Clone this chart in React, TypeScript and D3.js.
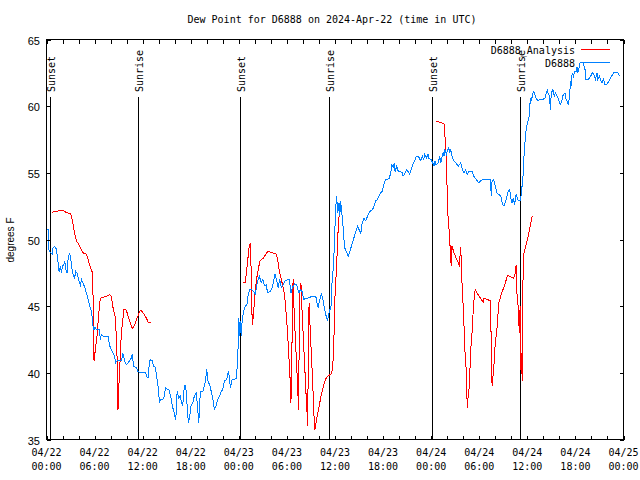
import React from 'react';
import * as d3 from 'd3';

// ---------- DATA ----------
// Observations (hours since 04/22 00:00 UTC, dew point °F)
const obsHours = [
  0.0, 0.2, 0.29, 0.5, 0.7, 0.83, 1.03, 1.25, 1.45, 1.57, 1.74, 1.87, 2.0, 2.15, 2.28, 2.4, 2.57, 2.7, 2.9, 3.03,
  3.15, 3.3, 3.5, 3.65, 3.8, 4.06, 4.23, 4.36, 4.56, 4.77, 4.98, 5.2, 5.4, 5.6, 5.73, 5.8, 5.93, 6.05, 6.2, 6.4,
  6.64, 6.7, 6.85, 7.05, 7.67, 7.9, 8.2, 8.5, 8.63, 8.8, 9.34, 9.54, 9.75, 9.96, 10.37, 10.58, 10.7, 10.87, 11.2, 11.4,
  11.6, 12.0, 12.37, 12.5, 12.66, 12.87, 13.0, 13.2, 13.36, 13.6, 13.77, 13.95, 14.1, 14.23, 14.5, 14.7, 14.85, 15.07, 15.27, 15.5,
  15.7, 15.9, 16.1, 16.2, 16.3, 16.5, 16.7, 16.8, 17.0, 17.1, 17.3, 17.4, 17.55, 17.7, 17.85, 18.05, 18.25, 18.45, 18.7, 18.9,
  19.0, 19.2, 19.5, 19.8, 20.0, 20.15, 20.4, 20.7, 20.95, 21.15, 21.35, 21.6, 21.8, 22.0, 22.2, 22.5, 22.7, 22.8, 22.95, 23.15,
  23.65, 23.85, 24.0, 24.07, 24.15, 24.3, 24.4, 24.57, 24.8, 25.0, 25.2, 25.4, 25.7, 26.07, 26.2, 26.4, 26.56, 26.8, 27.0, 27.2,
  27.4, 27.6, 27.9, 28.15, 28.3, 28.5, 28.7, 28.9, 29.1, 29.3, 29.5, 29.8, 30.1, 30.3, 30.5, 30.7, 30.96, 31.2, 31.5, 31.7,
  31.9, 32.1, 32.3, 32.6, 33.0, 33.6, 33.75, 33.9, 34.1, 34.3, 34.5, 34.7, 34.9, 35.05, 35.3, 35.5, 35.6, 35.8, 35.9, 36.0,
  36.1, 36.2, 36.35, 36.5, 36.6, 36.7, 36.85, 37.0, 37.2, 37.4, 37.65, 37.85, 38.1, 38.3, 38.5, 38.8, 39.0, 39.2, 39.4, 39.6,
  39.85, 40.05, 40.35, 40.7, 40.9, 41.1, 41.3, 41.5, 41.7, 41.9, 42.1, 42.3, 42.75, 42.96, 43.1, 43.25, 43.4, 43.5, 43.7, 43.9,
  44.2, 44.4, 44.5, 44.75, 44.96, 45.2, 45.3, 45.5, 45.7, 46.0, 46.15, 46.4, 46.6, 46.7, 46.9, 47.07, 47.2, 47.4, 47.6, 47.7,
  47.98, 48.2, 48.35, 48.5, 48.6, 48.9, 49.06, 49.2, 49.3, 49.5, 49.6, 49.7, 49.9, 50.0, 50.2, 50.3, 50.45, 50.6, 50.8, 51.05,
  51.4, 51.7, 51.9, 52.1, 52.3, 52.5, 52.7, 53.1, 53.3, 53.5, 53.75, 53.96, 54.2, 54.5, 55.4, 55.5, 55.6, 55.8, 56.0, 56.2,
  56.4, 56.7, 56.9, 57.1, 57.4, 57.6, 57.8, 57.95, 58.1, 58.25, 58.4, 58.6, 58.8, 58.96, 59.15, 59.3, 59.5, 59.6, 59.8, 60.0,
  60.2, 60.3, 60.4, 60.5, 60.7, 60.8, 60.9, 61.1, 61.3, 61.5, 61.9, 62.2, 62.5, 62.6, 62.8, 62.85, 63.0, 63.2, 63.35, 63.5,
  63.7, 63.9, 64.1, 64.3, 64.4, 64.7, 64.8, 64.95, 65.1, 65.25, 65.4, 65.45, 65.6, 65.75, 65.9, 66.1, 66.2, 66.3, 66.5, 66.6,
  66.9, 67.2, 67.3, 67.6, 67.9, 68.1, 68.3, 68.5, 68.7, 68.8, 69.0, 69.2, 69.3, 69.5, 69.7, 69.9, 70.2, 70.5, 70.8, 71.1,
  71.3, 71.5,
];
const obsValues = [
  50.75, 50.75, 49.25, 49.0, 48.9, 49.4, 49.5, 49.25, 48.25, 47.6, 48.0, 47.5, 48.0, 48.1, 48.4, 47.75, 47.5, 48.6, 49.0, 48.5,
  47.9, 47.4, 47.1, 47.6, 47.5, 46.9, 46.6, 47.0, 46.75, 46.4, 46.0, 45.5, 45.0, 44.6, 44.0, 43.5, 43.25, 43.4, 43.25, 43.25,
  43.25, 42.5, 42.9, 42.75, 42.75, 42.0, 41.6, 41.25, 40.75, 40.9, 40.9, 41.45, 40.9, 40.6, 40.9, 41.1, 41.4, 40.5, 40.4, 40.1,
  40.05, 40.05, 40.05, 39.75, 39.6, 40.9, 41.0, 40.9, 40.5, 40.4, 39.6, 38.9, 37.75, 38.0, 38.0, 38.25, 38.9, 38.75, 38.75, 38.25,
  37.5, 37.1, 36.5, 37.0, 38.6, 38.1, 38.25, 37.9, 37.5, 38.5, 39.1, 38.75, 37.5, 36.25, 36.6, 37.6, 37.75, 38.25, 38.5, 37.0,
  36.25, 38.6, 38.6, 39.25, 40.25, 39.4, 39.0, 38.25, 37.25, 37.5, 38.0, 38.25, 38.6, 38.75, 39.4, 39.5, 40.15, 39.75, 38.9, 39.5,
  39.55, 40.75, 44.1, 42.75, 43.9, 42.75, 43.75, 44.6, 45.0, 45.1, 46.0, 46.25, 46.2, 45.9, 46.5, 47.0, 47.25, 46.75, 47.0, 46.55,
  46.6, 46.0, 46.1, 46.4, 46.75, 47.4, 47.0, 46.4, 47.0, 46.4, 46.6, 46.9, 47.0, 47.0, 46.0, 46.4, 46.7, 46.6, 46.0, 46.25,
  46.1, 45.5, 45.6, 45.6, 45.7, 45.75, 45.25, 44.9, 45.5, 45.9, 45.5, 44.75, 44.25, 43.9, 44.6, 45.0, 46.5, 48.0, 49.25, 51.0,
  52.5, 53.25, 52.0, 52.75, 51.75, 52.9, 52.0, 51.0, 49.4, 49.1, 48.75, 49.1, 49.6, 50.0, 50.4, 51.0, 50.75, 50.4, 51.25, 51.6,
  51.4, 51.75, 52.1, 52.25, 52.6, 52.9, 53.0, 53.25, 53.5, 53.6, 54.1, 54.5, 54.55, 55.0, 55.6, 55.4, 55.75, 55.1, 55.5, 55.1,
  55.1, 55.0, 54.75, 55.0, 55.25, 55.0, 54.9, 55.25, 55.6, 56.0, 56.25, 56.25, 56.0, 55.9, 56.25, 56.0, 56.4, 56.1, 56.4, 56.1,
  56.0, 55.75, 55.5, 55.9, 55.6, 55.75, 56.25, 55.75, 56.1, 56.5, 56.25, 56.75, 56.4, 56.6, 56.9, 56.5, 56.75, 56.25, 55.9, 55.75,
  55.5, 55.75, 55.25, 55.0, 55.25, 54.9, 55.1, 55.1, 54.75, 54.6, 54.4, 54.25, 54.4, 54.5, 54.5, 53.25, 54.4, 54.5, 54.0, 53.5,
  53.4, 53.25, 52.6, 52.55, 53.1, 53.6, 53.75, 53.1, 52.75, 53.1, 52.6, 53.4, 53.0, 52.9, 52.9, 53.75, 55.0, 56.5, 58.0, 58.75,
  59.1, 60.0, 60.6, 60.4, 61.0, 61.1, 60.9, 60.6, 60.4, 60.5, 60.5, 60.6, 61.25, 60.9, 60.75, 59.75, 61.0, 61.25, 60.75, 61.0,
  60.75, 60.5, 60.1, 60.4, 60.75, 61.0, 60.6, 60.4, 60.1, 60.6, 61.9, 61.5, 62.5, 62.25, 62.6, 62.6, 62.9, 62.5, 63.0, 63.3,
  63.3, 62.75, 62.0, 62.0, 62.25, 62.5, 62.4, 62.0, 62.5, 62.0, 62.25, 61.9, 61.75, 62.0, 61.6, 61.6, 61.9, 62.25, 62.5, 62.55,
  62.5, 62.25,
];

// Analysis (NaN separates the three evening segments)
const anaHours = [
  0.62, 1.25, 1.66, 2.07, 2.5, 2.99, 3.2, 3.5, 3.74, 4.15, 4.56, 4.98, 5.39, 5.68, 5.8, 5.89, 5.93, 6.1, 6.3, 6.43,
  6.64, 6.72, 7.26, 7.88, 8.09, 8.3, 8.55, 8.72, 8.84, 8.92, 9.04, 9.34, 9.67, 9.96, 10.3, 10.7, 11.0, 11.4, 11.7, 11.95,
  12.37, 12.74, 13.0,
  13.1,
  24.5, 24.8, 24.9, 25.1, 25.3, 25.45, 25.5, 25.6, 25.7, 25.85, 26.0, 26.2, 26.5, 26.65, 27.06, 27.6, 28.0, 28.7, 28.9, 29.1,
  29.4, 29.7, 29.97, 30.2, 30.4, 30.5, 30.6, 30.7, 30.8, 30.9, 31.1, 31.3, 31.45, 31.5, 31.6, 31.75, 31.9, 32.1, 32.4, 32.6,
  32.7, 32.8, 32.9, 33.2, 33.4, 33.5, 33.7, 33.95, 34.25, 34.45, 34.8, 35.1, 35.5, 35.7, 35.8, 35.9, 36.0, 36.2, 36.3, 36.45,
  36.6,
  36.7,
  48.6, 49.0, 49.6, 49.7, 49.9, 50.0, 50.1, 50.3, 50.4, 50.5, 50.6, 50.8, 51.1, 51.5, 51.7, 51.75, 51.9, 52.0, 52.1, 52.2,
  52.4, 52.5, 52.6, 52.8, 52.9, 53.1, 53.3, 53.5, 53.96, 54.5, 54.6, 55.4, 55.5, 55.6, 55.8, 56.0, 56.2, 56.45, 56.8, 57.2,
  57.5, 57.8, 58.3, 58.5, 58.6, 58.7, 58.85, 59.0, 59.1, 59.2, 59.3, 59.35, 59.4, 59.5, 59.8, 60.0, 60.2, 60.4, 60.6,
];
const anaValues = [
  52.05, 52.1, 52.2, 52.2, 52.0, 51.97, 51.5, 50.5, 49.9, 49.5, 49.0, 48.9, 48.1, 47.6, 46.0, 43.25, 40.9, 41.75, 42.75, 43.75,
  45.25, 45.6, 45.7, 45.85, 45.75, 44.9, 44.25, 42.75, 40.5, 37.25, 39.1, 43.0, 44.75, 44.7, 44.0, 43.3, 43.6, 44.25, 44.7, 44.6,
  44.2, 43.75, 43.75,
  NaN,
  46.75, 46.75, 47.25, 48.4, 49.5, 49.75, 48.75, 45.0, 43.6, 44.5, 45.9, 47.0, 48.0, 48.4, 48.6, 49.1, 49.05, 48.9, 48.25, 47.5,
  46.75, 45.9, 44.0, 41.75, 39.5, 37.75, 40.0, 46.25, 47.0, 44.5, 42.0, 39.5, 37.25, 40.5, 46.0, 46.75, 44.5, 42.0, 38.25, 36.0,
  44.5, 45.25, 43.25, 39.5, 36.5, 35.75, 36.5, 37.25, 38.25, 38.75, 39.5, 39.75, 39.9, 40.25, 41.5, 43.25, 45.75, 48.0, 49.5, 51.5,
  52.0,
  NaN,
  58.9, 58.8, 58.7, 58.0, 56.0, 53.5, 51.75, 50.25, 48.9, 48.0, 49.5, 49.1, 48.6, 48.1, 49.4, 48.25, 46.0, 45.0, 43.5, 41.75,
  40.0, 37.4, 38.1, 39.25, 41.5, 43.0, 45.25, 46.25, 45.75, 45.3, 45.6, 45.4, 42.0, 39.0, 40.25, 42.25, 43.25, 45.25, 46.0, 46.6,
  47.3, 47.25, 47.1, 47.5, 48.1, 46.0, 45.0, 43.0, 45.0, 40.25, 41.5, 39.4, 44.0, 48.75, 49.5, 50.0, 50.5, 51.1, 51.75,
];

// Sunrise / sunset markers (hours)
const eventHours = [0.42, 11.4, 24.2, 35.2, 48.1, 59.1];
const eventLabels = ['Sunset', 'Sunrise', 'Sunset', 'Sunrise', 'Sunset', 'Sunrise'];

const xTickDates = ['04/22', '04/22', '04/22', '04/22', '04/23', '04/23', '04/23', '04/23', '04/24', '04/24', '04/24', '04/24', '04/25'];
const xTickTimes = ['00:00', '06:00', '12:00', '18:00', '00:00', '06:00', '12:00', '18:00', '00:00', '06:00', '12:00', '18:00', '00:00'];
const yTickValues = [35, 40, 45, 50, 55, 60, 65];

const seriesNames = ['D6888_Analysis', 'D6888'];
const seriesColors = ['#ff0000', '#0080ff'];

// ---------- CHART ----------
const L = 46.5, R = 623.5, T = 39.5, B = 439.5;
const MONO = "'DejaVu Sans Mono', monospace";
const SANS = "'Liberation Sans', Arial, sans-serif";

export default function App() {
  const x = d3.scaleLinear().domain([0, 72]).range([L, R]);
  const y = d3.scaleLinear().domain([35, 65]).range([B, T]);

  const line = d3
    .line<[number, number]>()
    .defined((d) => !Number.isNaN(d[1]))
    .x((d) => x(d[0]))
    .y((d) => y(d[1]));

  const obs: [number, number][] = obsHours.map((h, i) => [h, obsValues[i]]);
  const ana: [number, number][] = anaHours.map((h, i) => [h, anaValues[i]]);

  const minorTicks = d3.range(0, 73, 2);
  const labelHours = xTickDates.map((_, i) => i * 6);
  const tick = 4;

  return (
    <svg width={640} height={480} style={{ display: 'block', position: 'absolute', left: 0, top: 0, background: '#fff' }}>
      <rect x={0} y={0} width={640} height={480} fill="#fff" />
      <text x={332} y={23} textAnchor="middle" fontFamily={MONO} fontSize={10}>
        Dew Point for D6888 on 2024-Apr-22 (time in UTC)
      </text>

      {/* event lines */}
      {eventHours.map((h, i) => {
        const px = Math.round(x(h)) + 0.5;
        return (
          <g key={'ev' + i}>
            <line x1={px} x2={px} y1={97} y2={B} stroke="#000" strokeWidth={1} shapeRendering="crispEdges" />
            <text
              transform={`translate(${px + 4},92) rotate(-90)`}
              textAnchor="start"
              fontFamily={MONO}
              fontSize={10}
            >
              {eventLabels[i]}
            </text>
          </g>
        );
      })}

      {/* data */}
      <path d={line(ana) || ''} fill="none" stroke={seriesColors[0]} strokeWidth={1} shapeRendering="crispEdges" />
      <path d={line(obs) || ''} fill="none" stroke={seriesColors[1]} strokeWidth={1} shapeRendering="crispEdges" />

      {/* frame */}
      <rect x={L} y={T} width={R - L} height={B - T} fill="none" stroke="#000" strokeWidth={1} shapeRendering="crispEdges" />

      {/* x ticks */}
      {minorTicks.map((h) => {
        const px = Math.round(x(h)) + 0.5;
        return (
          <g key={'xt' + h}>
            <line x1={px} x2={px} y1={B} y2={B - tick} stroke="#000" shapeRendering="crispEdges" />
            <line x1={px} x2={px} y1={T} y2={T + tick} stroke="#000" shapeRendering="crispEdges" />
          </g>
        );
      })}
      {labelHours.map((h, i) => (
        <g key={'xl' + i}>
          <text x={x(h)} y={456} textAnchor="middle" fontFamily={MONO} fontSize={10}>
            {xTickDates[i]}
          </text>
          <text x={x(h)} y={470} textAnchor="middle" fontFamily={MONO} fontSize={10}>
            {xTickTimes[i]}
          </text>
        </g>
      ))}

      {/* y ticks */}
      {yTickValues.map((v) => {
        const py = Math.round(y(v)) + 0.5;
        return (
          <g key={'yt' + v}>
            <line x1={L} x2={L + tick} y1={py} y2={py} stroke="#000" shapeRendering="crispEdges" />
            <line x1={R} x2={R - tick} y1={py} y2={py} stroke="#000" shapeRendering="crispEdges" />
            <text x={40} y={py + 4} textAnchor="end" fontFamily={SANS} fontSize={11}>
              {v}
            </text>
          </g>
        );
      })}
      <text transform="translate(14,240) rotate(-90)" textAnchor="middle" fontFamily={SANS} fontSize={10}>
        degrees F
      </text>

      {/* legend */}
      {seriesNames.map((n, i) => (
        <g key={'lg' + i}>
          <text x={575} y={54 + i * 13} textAnchor="end" fontFamily={MONO} fontSize={10}>
            {n}
          </text>
          <line x1={581} x2={610} y1={49.5 + i * 13} y2={49.5 + i * 13} stroke={seriesColors[i]} shapeRendering="crispEdges" />
        </g>
      ))}
    </svg>
  );
}
